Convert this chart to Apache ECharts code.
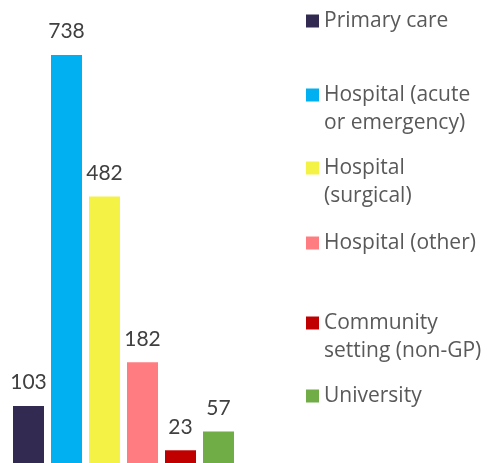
<!DOCTYPE html>
<html>
<head>
<meta charset="utf-8">
<script src="https://cdn.jsdelivr.net/npm/echarts@6/dist/echarts.min.js"></script>
<style>
  html, body { margin: 0; padding: 0; background: #fff; }
  #chart { width: 487px; height: 463px; }
</style>
</head>
<body>
<div id="chart"></div>
<script>
// 数据
var categories = ['Primary care', 'Hospital (acute\nor emergency)', 'Hospital\n(surgical)', 'Hospital (other)', 'Community\nsetting (non-GP)', 'University']
var values = [103, 738, 482, 182, 23, 57]
var colors = ['#322a50', '#00b0f0', '#f5f246', '#ff7c80', '#c00000', '#70ad47']
// 图例中心位置 (y)
var legendCenters = [21, 95, 168, 243, 323, 396]

var chart = echarts.init(document.getElementById('chart'))

var series = []
var legends = []
categories.forEach(function (name, i) {
  var data = categories.map(function (c, j) { return j === i ? values[i] : null })
  series.push({
    name: name,
    type: 'bar',
    stack: 'all',
    barWidth: 31,
    itemStyle: { color: colors[i] },
    label: {
      show: true,
      position: 'top',
      distance: 13,
      color: '#404040',
      fontFamily: 'Lato',
      fontSize: 21
    },
    data: data
  })
  var twoLine = name.indexOf('\n') >= 0
  legends.push({
    data: [name],
    left: 306,
    top: legendCenters[i] - (twoLine ? 42 : 14),
    padding: 0,
    itemWidth: 13,
    itemHeight: 13,
    icon: 'rect',
    selectedMode: false,
    // 两行文字时, 让图标对齐第一行
    formatter: function (n) { return twoLine ? '\n' + n : n },
    textStyle: {
      color: '#595959',
      fontFamily: 'Open Sans',
      fontSize: 21,
      lineHeight: 28
    }
  })
})

var option = {
  animation: false,
  legend: legends,
  grid: {
    left: 9.5,
    width: 228,
    top: 20.6,
    bottom: -1
  },
  xAxis: {
    type: 'category',
    data: categories,
    show: false
  },
  yAxis: {
    type: 'value',
    min: 0,
    max: 800,
    show: false
  },
  series: series
}
chart.setOption(option)
</script>
</body>
</html>
